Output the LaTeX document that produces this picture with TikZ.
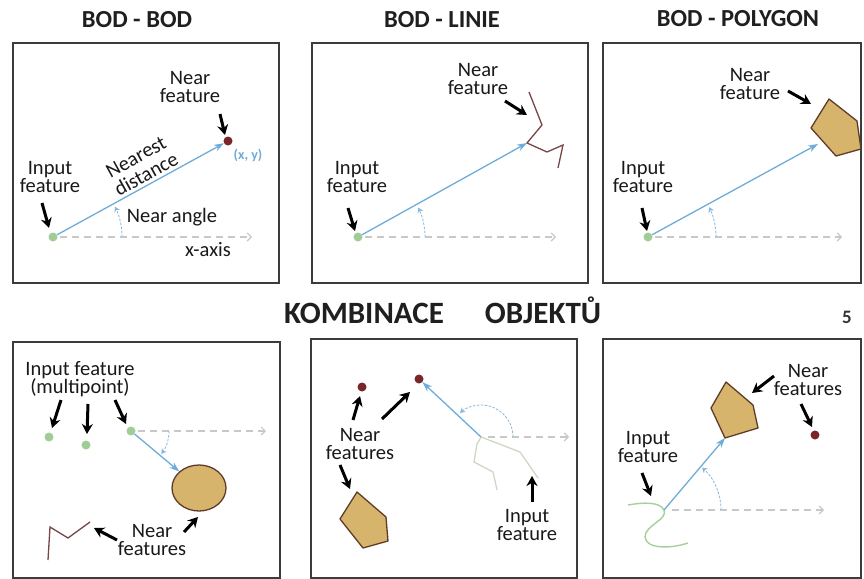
\documentclass[tikz,border=0pt]{standalone}
\usepackage{fontspec}
\setmainfont{Carlito}
\usetikzlibrary{arrows.meta,shapes.geometric}
\definecolor{ptgreen}{RGB}{160,205,150}
\definecolor{ptred}{RGB}{120,38,42}
\definecolor{arrblue}{RGB}{112,172,216}
\definecolor{axgray}{RGB}{200,200,200}
\definecolor{polyfill}{RGB}{214,180,108}
\definecolor{polyedge}{RGB}{95,60,40}
\definecolor{lnbrown}{RGB}{120,70,72}
\definecolor{inlight}{RGB}{208,216,196}
\definecolor{incurve}{RGB}{165,208,155}
\definecolor{framec}{RGB}{60,60,60}
\begin{document}
\begin{tikzpicture}[x=1pt,y=-1pt,
 panel/.style={draw=framec,line width=1.4pt},
 hdr/.style={font=\bfseries\fontsize{24.5}{26}\selectfont,text=black!88,inner sep=0pt,anchor=base},
 bighdr/.style={font=\bfseries\fontsize{31}{32}\selectfont,text=black!88,inner sep=0pt,anchor=base},
 lbl/.style={font=\fontsize{20.5}{18.5}\selectfont,align=center,inner sep=0pt,text=black!90},
 inpt/.style={circle,fill=ptgreen,minimum size=9pt,inner sep=0pt},
 nrpt/.style={circle,fill=ptred,minimum size=9pt,inner sep=0pt},
 dist/.style={draw=arrblue,line width=1.3pt,-{Stealth[length=10pt,width=7pt]}},
 xaxis/.style={draw=axgray,line width=1.2pt,dash pattern=on 7pt off 5pt,-{Straight Barb[length=4pt,width=8pt]}},
 angarc/.style={draw=arrblue!85,line width=0.8pt,dash pattern=on 2.5pt off 1.5pt,-{Stealth[length=5pt,width=6pt]}},
 pointer/.style={draw=black,line width=3pt,-{Stealth[length=10pt,width=11pt]}},
 nearpoly/.style={draw=polyedge,fill=polyfill,line width=1.3pt,line join=round},
 nearline/.style={draw=lnbrown,line width=1.3pt,line join=miter},
 inline/.style={draw=inlight,line width=1.3pt},
]
\useasboundingbox (0,0) rectangle (864,578);
\fill[white] (0,0) rectangle (864,578);

% ---------- headers ----------
\node[hdr] (h1) at (137,28) {BOD - BOD};
\node[hdr] (h2) at (442,28) {BOD - LINIE};
\node[hdr] (h3) at (738,27) {BOD - POLYGON};
\node[bighdr] (h4) at (364,323) {KOMBINACE};
\node[bighdr] (h5) at (543,323) {OBJEKTŮ};
\node[font=\bfseries\fontsize{19}{20}\selectfont,text=black!80,inner sep=0pt,anchor=base] (h6) at (847,323) {5};

% ---------- frames ----------
\draw[panel] (13,43) rectangle (279,283);
\draw[panel] (312,43) rectangle (588,283);
\draw[panel] (603,43) rectangle (861,283);
\draw[panel] (13,342) rectangle (280,578);
\draw[panel] (311,339) rectangle (577,578);
\draw[panel] (603,339) rectangle (861,578);

% ---------- panel 1: point - point ----------
\coordinate (ax1) at (252,237);
\draw[xaxis] (60,237) -- (ax1);
\node[inpt] (in1) at (53,237) {};
\node[nrpt] (nr1) at (228,141) {};
\draw[dist] (in1) -- (nr1);
\draw[angarc] (122,237) arc[start angle=0,end angle=-26,radius=69];
\node[lbl] (nf1) at (190,87) {Near\\feature};
\coordinate (p1a) at (220,114); \coordinate (p1b) at (225,135);
\draw[pointer] (p1a) -- (p1b);
\node[lbl] (if1) at (50,177) {Input\\feature};
\coordinate (p1c) at (42,203); \coordinate (p1d) at (49,228);
\draw[pointer] (p1c) -- (p1d);
\node[lbl,rotate=29] (nd1a) at (136,157) {Nearest};
\node[lbl,rotate=29] (nd1b) at (146,174) {distance};
\node[lbl] (na1) at (172,217) {Near angle};
\node[lbl] (xa1) at (208,250) {x-axis};
\node[font=\bfseries\fontsize{14}{15}\selectfont,text=arrblue,inner sep=0pt] (xy1) at (248,155) {(x, y)};

% ---------- panel 2: point - line ----------
\coordinate (ax2) at (556,237);
\draw[xaxis] (365,237) -- (ax2);
\coordinate (tl2) at (527,143);
\draw[nearline] (529,92) -- (542,125) -- (tl2) -- (547,152) -- (563,145) -- (558,168);
\node[inpt] (in2) at (358,237) {};
\draw[dist] (in2) -- (tl2);
\draw[angarc] (425,237) arc[start angle=0,end angle=-26,radius=67];
\node[lbl] (nf2) at (478,79) {Near\\feature};
\coordinate (p2a) at (505,101); \coordinate (p2b) at (527,115);
\draw[pointer] (p2a) -- (p2b);
\node[lbl] (if2) at (357,177) {Input\\feature};
\coordinate (p2c) at (348,208); \coordinate (p2d) at (355,231);
\draw[pointer] (p2c) -- (p2d);

% ---------- panel 3: point - polygon ----------
\coordinate (ax3) at (842,237);
\draw[xaxis] (655,237) -- (ax3);
\coordinate (tp3) at (818,144);
\draw[nearpoly] (829,99) -- (857,121) -- (861,149) -- (836,156) -- (811,128) -- cycle;
\node[inpt] (in3) at (648,237) {};
\draw[dist] (in3) -- (tp3);
\draw[angarc] (716,237) arc[start angle=0,end angle=-26,radius=68];
\node[lbl] (nf3) at (750,84) {Near\\feature};
\coordinate (p3a) at (788,91); \coordinate (p3b) at (811,104);
\draw[pointer] (p3a) -- (p3b);
\node[lbl] (if3) at (643,177) {Input\\feature};
\coordinate (p3c) at (642,208); \coordinate (p3d) at (647,231);
\draw[pointer] (p3c) -- (p3d);

% ---------- panel 4: multipoint ----------
\coordinate (ax4) at (266,431);
\draw[xaxis] (138,431) -- (ax4);
\node[inpt] (in4a) at (49,437) {};
\node[inpt] (in4b) at (86,445) {};
\node[inpt] (in4c) at (131,431) {};
\node[ellipse,draw=polyedge,fill=polyfill,line width=1.3pt,minimum width=54pt,minimum height=46pt,inner sep=0pt] (el4) at (199,488) {};
\draw[dist] (in4c) -- (el4);
\draw[angarc] (169,431) arc[start angle=0,end angle=37,radius=38];
\draw[nearline] (48,560) -- (50,527) -- (68,538) -- (90,522);
\node[lbl] (if4) at (80,379) {Input feature\\(multipoint)};
\coordinate (p4a) at (61,400); \coordinate (p4b) at (52,428);
\draw[pointer] (p4a) -- (p4b);
\coordinate (p4c) at (88,404); \coordinate (p4d) at (87,434);
\draw[pointer] (p4c) -- (p4d);
\coordinate (p4e) at (115,400); \coordinate (p4f) at (126,424);
\draw[pointer] (p4e) -- (p4f);
\node[lbl] (nf4) at (152,540) {Near\\features};
\coordinate (p4g) at (117,540); \coordinate (p4h) at (94,528);
\draw[pointer] (p4g) -- (p4h);
\coordinate (p4i) at (184,532); \coordinate (p4j) at (198,517);
\draw[pointer] (p4i) -- (p4j);

% ---------- panel 5: line input ----------
\coordinate (ax5) at (569,437);
\draw[xaxis] (488,437) -- (ax5);
\coordinate (in5) at (481,437);
\draw[inline] (538,478) -- (520,452) -- (in5) -- (477,444) -- (474,462) -- (493,472) -- (497,490);
\node[nrpt] (nr5a) at (362,387) {};
\node[nrpt] (nr5b) at (419,379) {};
\draw[dist] (in5) -- (nr5b);
\draw[angarc] (513,437) arc[start angle=0,end angle=-131,radius=32];
\draw[nearpoly] (357,492) -- (386,517) -- (388,541) -- (363,548) -- (340,519) -- cycle;
\node[lbl] (nf5) at (360,444) {Near\\features};
\coordinate (p5a) at (353,420); \coordinate (p5b) at (360,396);
\draw[pointer] (p5a) -- (p5b);
\coordinate (p5c) at (382,419); \coordinate (p5d) at (410,392);
\draw[pointer] (p5c) -- (p5d);
\coordinate (p5e) at (340,465); \coordinate (p5f) at (350,489);
\draw[pointer] (p5e) -- (p5f);
\node[lbl] (if5) at (527,525) {Input\\feature};
\coordinate (p5g) at (532,502); \coordinate (p5h) at (532,476);
\draw[pointer] (p5g) -- (p5h);

% ---------- panel 6: curve input ----------
\coordinate (ax6) at (824,510);
\draw[xaxis] (672,510) -- (ax6);
\coordinate (in6) at (664,510);
\draw[draw=incurve,line width=1.4pt] (628,505) .. controls (645,502) and (660,502) .. (in6)
  .. controls (668,520) and (645,525) .. (645,537) .. controls (646,549) and (670,549) .. (688,543);
\coordinate (tp6) at (725,438);
\draw[nearpoly] (726,382) -- (753,405) -- (758,428) -- (tp6) -- (711,408) -- cycle;
\draw[dist] (in6) -- (tp6);
\draw[angarc] (721,510) arc[start angle=0,end angle=-48,radius=57];
\node[nrpt] (nr6) at (815,435) {};
\node[lbl] (nf6) at (808,380) {Near\\features};
\coordinate (p6a) at (774,376); \coordinate (p6b) at (752,393);
\draw[pointer] (p6a) -- (p6b);
\coordinate (p6c) at (801,404); \coordinate (p6d) at (812,427);
\draw[pointer] (p6c) -- (p6d);
\node[lbl] (if6) at (648,447) {Input\\feature};
\coordinate (p6e) at (642,473); \coordinate (p6f) at (651,496);
\draw[pointer] (p6e) -- (p6f);
\end{tikzpicture}
\end{document}
